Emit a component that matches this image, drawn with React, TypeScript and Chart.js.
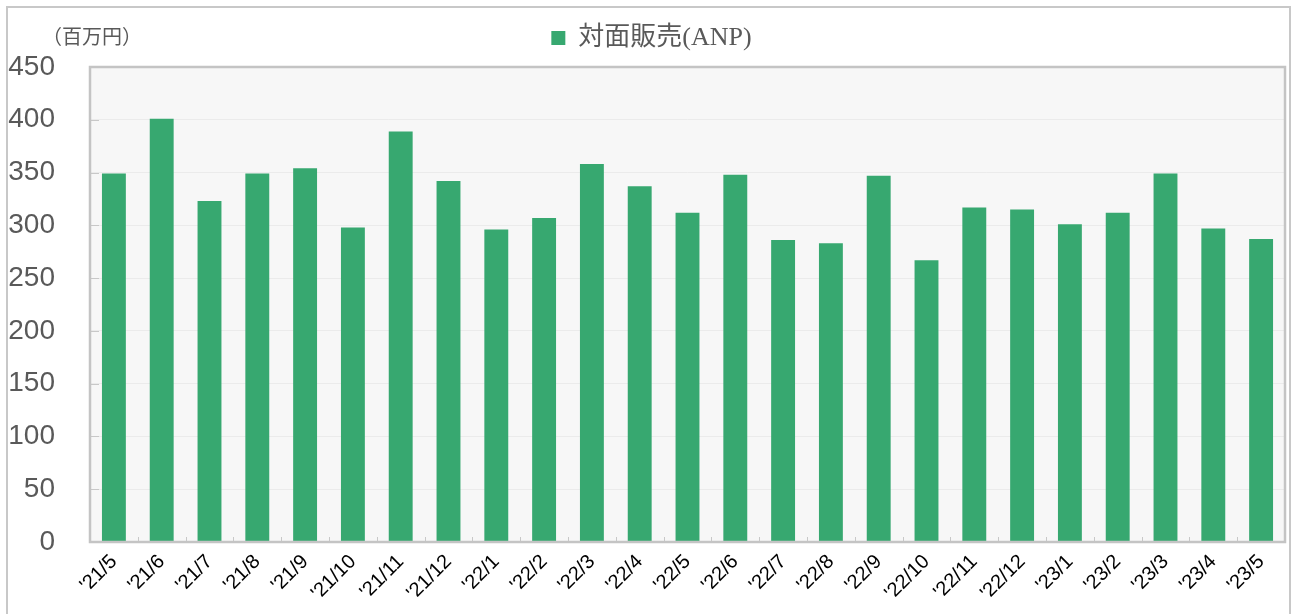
import React, { useEffect, useRef } from 'react';
import { Chart, registerables } from 'chart.js';
Chart.register(...registerables);

const categories = [
  "'21/5", "'21/6", "'21/7", "'21/8", "'21/9", "'21/10", "'21/11", "'21/12",
  "'22/1", "'22/2", "'22/3", "'22/4", "'22/5", "'22/6", "'22/7", "'22/8",
  "'22/9", "'22/10", "'22/11", "'22/12", "'23/1", "'23/2", "'23/3", "'23/4", "'23/5",
];
const anpValues = [
  349, 401, 323, 349, 354, 298, 389, 342,
  296, 307, 358, 337, 312, 348, 286, 283,
  347, 267, 317, 315, 301, 312, 349, 297, 287,
];
const yMin = 0;
const yMax = 450;
const yStep = 50;
const seriesLabel = '対面販売(ANP)';
const unitLabel = '（百万円）';

const BAR_COLOR = '#37a870';

const decorPlugin = {
  id: 'decor',
  afterLayout(chart: any) {
    // nudge legend slightly right, as in the reference
    const lg = chart.legend;
    if (lg) {
      lg.left += 9;
      lg.right += 9;
    }
  },
  beforeDraw(chart: any) {
    const { ctx, chartArea } = chart;
    ctx.save();
    // outer frame
    ctx.strokeStyle = '#c8c8c8';
    ctx.lineWidth = 2;
    ctx.strokeRect(7, 7, chart.width - 9, chart.height + 10);
    // plot background
    ctx.fillStyle = '#f7f7f7';
    ctx.fillRect(chartArea.left, chartArea.top, chartArea.right - chartArea.left, chartArea.bottom - chartArea.top);
    // unit label
    ctx.fillStyle = '#595959';
    ctx.font = '20px "Noto Sans CJK JP", sans-serif';
    ctx.textBaseline = 'middle';
    ctx.textAlign = 'left';
    ctx.fillText(unitLabel, 42, 36);
    ctx.restore();
  },
  afterDatasetsDraw(chart: any) {
    const { ctx, chartArea, scales } = chart;
    const y = scales.y;
    ctx.save();
    ctx.strokeStyle = '#c8c8c8';
    ctx.lineWidth = 1;
    // y tick marks inside plot
    y.ticks.forEach((t: any) => {
      const py = Math.round(y.getPixelForValue(t.value)) + 0.5;
      ctx.beginPath();
      ctx.moveTo(chartArea.left, py);
      ctx.lineTo(chartArea.left + 9, py);
      ctx.stroke();
    });
    // x tick marks at category boundaries
    const n = categories.length;
    const w = (chartArea.right - chartArea.left) / n;
    for (let i = 1; i < n; i++) {
      const px = Math.round(chartArea.left + i * w) + 0.5;
      ctx.beginPath();
      ctx.moveTo(px, chartArea.bottom);
      ctx.lineTo(px, chartArea.bottom - 5);
      ctx.stroke();
    }
    // plot border
    ctx.strokeStyle = '#c4c4c4';
    ctx.lineWidth = 2.5;
    ctx.strokeRect(chartArea.left, chartArea.top, chartArea.right - chartArea.left, chartArea.bottom - chartArea.top);
    ctx.restore();
  },
};

export default function App() {
  const ref = useRef<HTMLCanvasElement>(null);
  useEffect(() => {
    document.body.style.margin = '0';
    const chart = new Chart(ref.current!, {
      type: 'bar',
      data: {
        labels: categories,
        datasets: [
          {
            label: seriesLabel,
            data: anpValues,
            backgroundColor: BAR_COLOR,
            borderWidth: 0,
            barPercentage: 0.5,
            categoryPercentage: 1,
          },
        ],
      },
      options: {
        animation: false,
        responsive: false,
        maintainAspectRatio: false,
        layout: { padding: { top: 19, right: 7, left: 0, bottom: 0 } },
        plugins: {
          legend: {
            display: true,
            position: 'top',
            labels: {
              boxWidth: 14,
              boxHeight: 14,
              padding: 6,
              color: '#595959',
              font: { size: 26, family: '"Liberation Serif", "Noto Sans CJK JP", serif' },
            },
          },
          title: {
            display: true,
            text: '',
            weight: 0,
            padding: 0,
            font: { size: 6, lineHeight: 1 },
          },
          tooltip: { enabled: false },
        },
        scales: {
          x: {
            grid: { display: false, drawTicks: false },
            border: { display: false },
            ticks: {
              autoSkip: false,
              minRotation: 45,
              maxRotation: 45,
              padding: 8,
              color: '#000000',
              font: { size: 20, family: '"Liberation Sans", Arial, sans-serif' },
            },
            afterFit(scale: any) {
              scale.height = 72;
            },
          },
          y: {
            min: yMin,
            max: yMax,
            ticks: {
              stepSize: yStep,
              padding: 35,
              color: '#595959',
              font: { size: 28, family: '"Liberation Sans", Arial, sans-serif' },
            },
            grid: { color: '#ebebeb', drawTicks: false },
            border: { display: false },
            afterFit(scale: any) {
              scale.width = 90;
            },
          },
        },
      },
      plugins: [decorPlugin],
    } as any);
    return () => chart.destroy();
  }, []);
  return (
    <div style={{ position: 'absolute', left: 0, top: 0, width: 1292, height: 614 }}>
      <canvas ref={ref} width={1292} height={614} style={{ width: 1292, height: 614 }} />
    </div>
  );
}
